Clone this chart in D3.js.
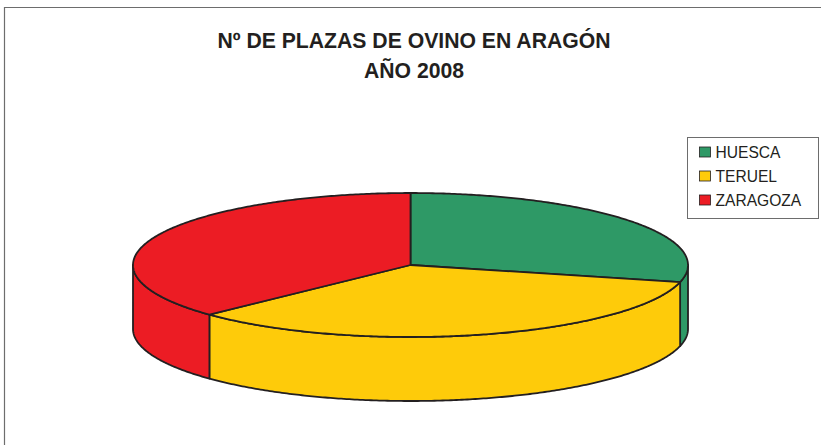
<!DOCTYPE html>
<html>
<head>
<meta charset="utf-8">
<script src="https://cdn.jsdelivr.net/npm/d3@7/dist/d3.min.js"></script>
<style>
  html, body { margin: 0; padding: 0; background: #fff; }
  svg { display: block; }
</style>
</head>
<body>
<svg id="chart" width="821" height="445"></svg>
<script>
// Nº de plazas de ovino por provincia (porcentaje del total de Aragón)
const provincias = ["HUESCA", "TERUEL", "ZARAGOZA"];
const plazas = [28.8, 34.1, 37.1];
const colores = ["#2E9966", "#FECB0A", "#EC1C24"];
const titulo = ["Nº DE PLAZAS DE OVINO EN ARAGÓN", "AÑO 2008"];

const W = 821, H = 445;
const svg = d3.select("#chart");

// Marco del gráfico
svg.append("path")
  .attr("d", `M4.5,${H + 2} V7.5 H${W + 2}`)
  .attr("fill", "none")
  .attr("stroke", "#6d6d6d")
  .attr("stroke-width", 1.2);

// Título
const t = svg.append("text")
  .attr("text-anchor", "middle")
  .attr("font-family", "Liberation Sans, Arial, Helvetica, sans-serif")
  .attr("font-weight", "bold")
  .attr("font-size", 21.2)
  .attr("fill", "#231F20");
titulo.forEach((line, i) => {
  t.append("tspan").attr("x", 414).attr("y", 48 + i * 30).text(line);
});

// Tarta 3D: elipse superior y pared lateral
const cx = 410.5, cy = 265, rx = 277.5, ry = 72, depth = 64;
const pie = d3.pie().sort(null).value(d => d)(plazas);

// punto sobre la elipse para un ángulo medido en sentido horario desde las 12
const pt = (a, dy = 0) => [cx + rx * Math.sin(a), cy - ry * Math.cos(a) + dy];

function arcPoints(a0, a1, dy = 0) {
  const n = Math.max(2, Math.ceil(Math.abs(a1 - a0) / 0.01));
  return d3.range(n + 1).map(i => pt(a0 + (a1 - a0) * i / n, dy));
}

const line = d3.line();
const stroke = "#231F20";

// Paredes laterales (solo la parte frontal: ángulos entre π/2 y 3π/2)
const sides = svg.append("g");
pie.forEach((s, i) => {
  const a0 = Math.max(s.startAngle, Math.PI / 2);
  const a1 = Math.min(s.endAngle, 3 * Math.PI / 2);
  if (a1 <= a0) return;
  const top = arcPoints(a0, a1);
  const bottom = arcPoints(a1, a0, depth);
  sides.append("path")
    .attr("d", line(top.concat(bottom)) + "Z")
    .attr("fill", colores[i])
    .attr("stroke", stroke)
    .attr("stroke-width", 1.8)
    .attr("stroke-linejoin", "round");
});

// Caras superiores
const tops = svg.append("g");
pie.forEach((s, i) => {
  const pts = [[cx, cy]].concat(arcPoints(s.startAngle, s.endAngle));
  tops.append("path")
    .attr("d", line(pts) + "Z")
    .attr("fill", colores[i])
    .attr("stroke", stroke)
    .attr("stroke-width", 1.8)
    .attr("stroke-linejoin", "round");
});

// Leyenda
const leg = svg.append("g").attr("transform", "translate(687.5,137.5)");
leg.append("rect")
  .attr("width", 131).attr("height", 81)
  .attr("fill", "#fff")
  .attr("stroke", "#6d6d6d")
  .attr("stroke-width", 1);
provincias.forEach((p, i) => {
  const g = leg.append("g").attr("transform", `translate(12,${14.5 + i * 24})`);
  g.append("rect")
    .attr("width", 11).attr("height", 10)
    .attr("y", -5)
    .attr("fill", colores[i])
    .attr("stroke", "#231F20")
    .attr("stroke-width", 0.8);
  g.append("text")
    .attr("x", 16)
    .attr("y", 5.5)
    .attr("font-family", "Liberation Sans, Arial, Helvetica, sans-serif")
    .attr("font-size", 15.6)
    .attr("fill", "#231F20")
    .text(p);
});
</script>
</body>
</html>
